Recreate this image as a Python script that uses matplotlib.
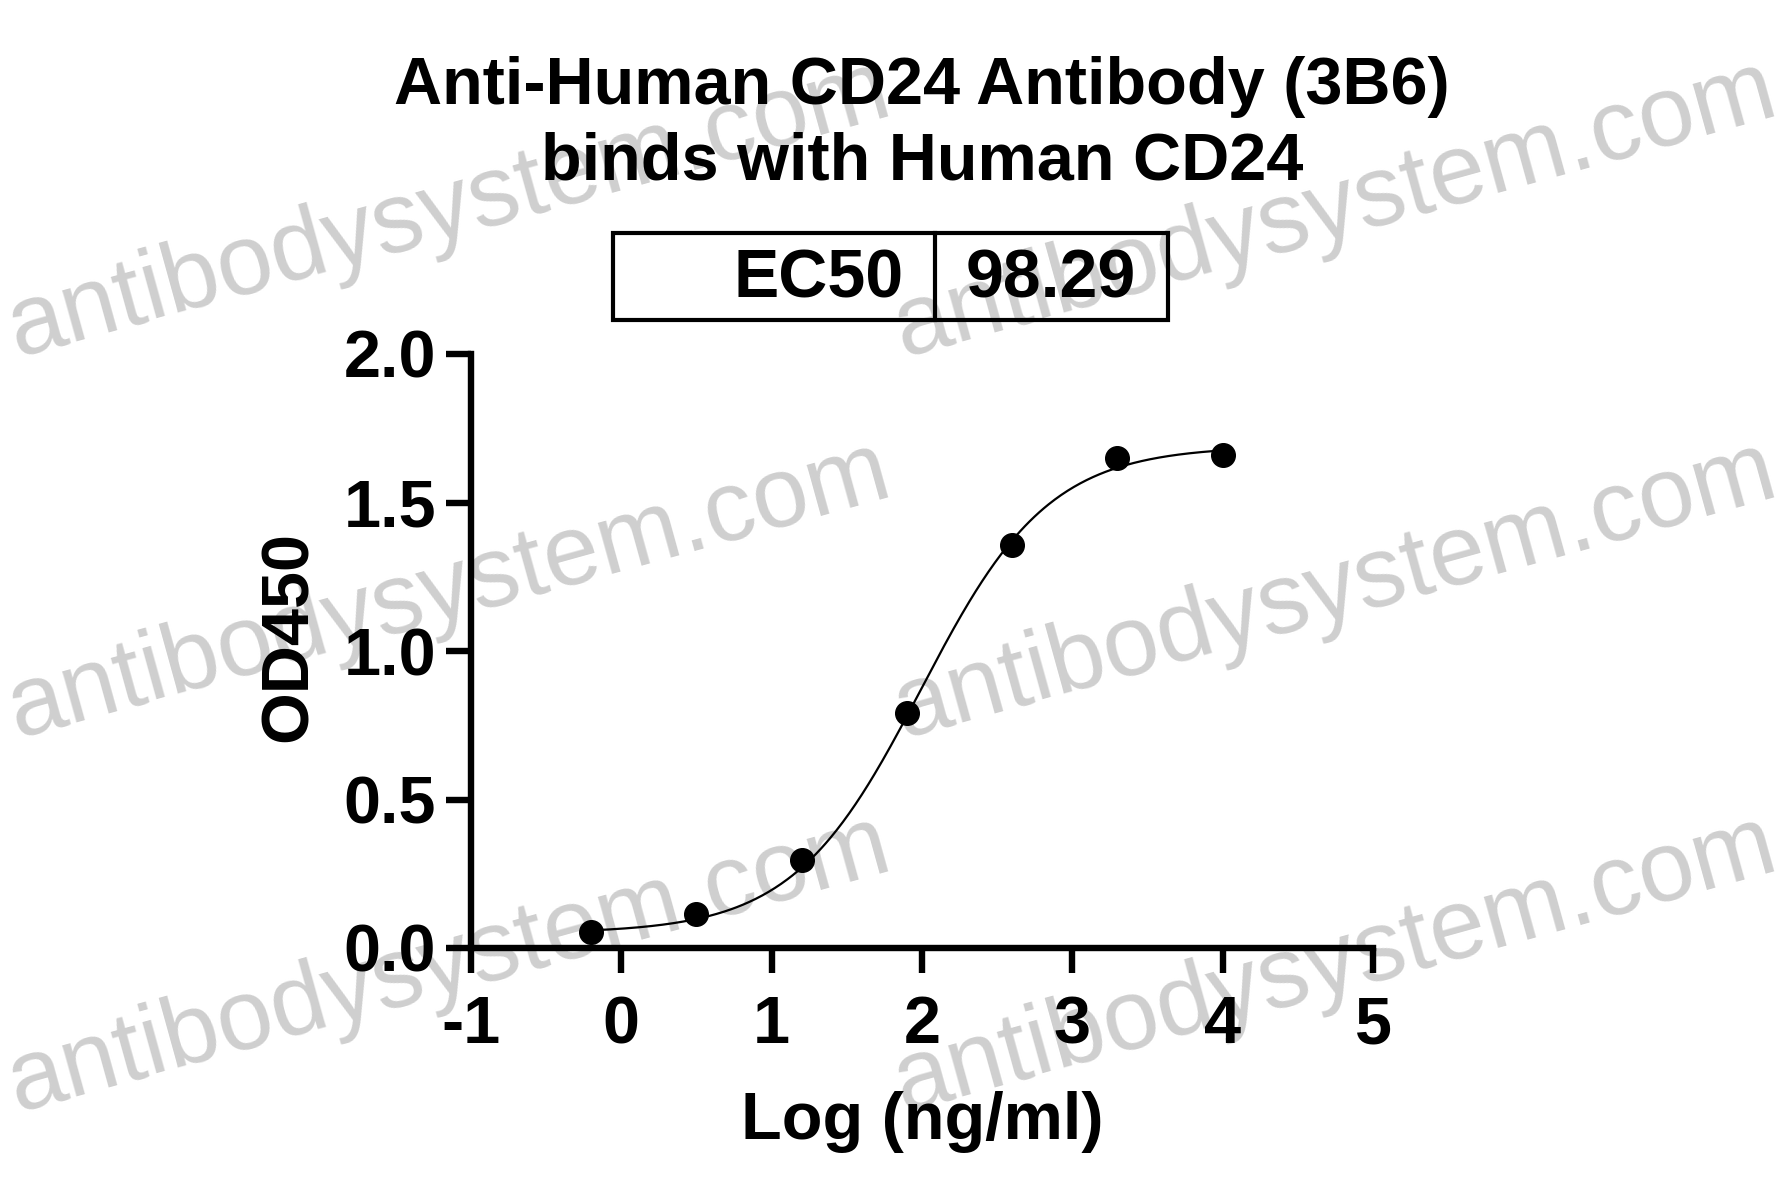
import matplotlib
matplotlib.use("Agg")
import matplotlib.pyplot as plt
import numpy as np
from matplotlib.patches import Rectangle
from matplotlib.lines import Line2D

# data
log_conc = [-0.20, 0.50, 1.20, 1.90, 2.60, 3.30, 4.00]
od450 = [0.055, 0.114, 0.295, 0.790, 1.358, 1.650, 1.660]
x_ticks = [-1, 0, 1, 2, 3, 4, 5]
y_ticks = [0.0, 0.5, 1.0, 1.5, 2.0]
ec50 = 98.29

# 4PL fit parameters (estimated from the curve)
bottom, top, hill = 0.05, 1.69, 1.02

plt.rcParams['font.family'] = ['Liberation Sans', 'DejaVu Sans']
plt.rcParams['font.weight'] = 'bold'

W, H = 1781, 1197
fig = plt.figure(figsize=(W / 100, H / 100), dpi=100)

def fx(px):
    return px / W

def fy(py):
    return 1 - py / H

# watermark, behind everything
for cx in [449, 1335]:
    for cy in [210, 591, 965]:
        fig.text(fx(cx), fy(cy), "antibodysystem.com", fontsize=72, fontweight='normal',
                 color='#cfcfcf', rotation=15.5, ha='center', va='center',
                 rotation_mode='anchor', zorder=-5)

ax = fig.add_axes([fx(471), fy(948), fx(1373) - fx(471), fy(354) - fy(948)])
ax.patch.set_alpha(0)

xs = np.linspace(min(log_conc), max(log_conc), 400)
logec = np.log10(ec50)
curve = bottom + (top - bottom) / (1 + 10 ** ((logec - xs) * hill))
ax.plot(xs, curve, color='black', lw=1.6, zorder=2)
ax.plot(log_conc, od450, 'o', color='black', markersize=17, zorder=3, clip_on=False)

ax.set_xlim(-1, 5)
ax.set_ylim(0, 2)
ax.set_xticks(x_ticks)
ax.set_xticklabels([str(t) for t in x_ticks])
ax.set_yticks(y_ticks)
ax.set_yticklabels([f"{t:.1f}" for t in y_ticks])
for s in ['top', 'right']:
    ax.spines[s].set_visible(False)
for s in ['left', 'bottom']:
    ax.spines[s].set_linewidth(4.6)
ax.tick_params(axis='both', width=4.6, length=18, labelsize=48, color='black')
ax.tick_params(axis='x', pad=16)
ax.tick_params(axis='y', pad=7)
for lab in ax.get_xticklabels() + ax.get_yticklabels():
    lab.set_fontweight('bold')

# axis labels
fig.text(fx(290), fy(636), "OD450", rotation=90, fontsize=48, fontweight='bold',
         ha='center', va='center')
fig.text(fx(922), fy(1139), "Log (ng/ml)", fontsize=48, fontweight='bold',
         ha='center', va='baseline')

# title
fig.text(fx(922), fy(104), "Anti-Human CD24 Antibody (3B6)", fontsize=48,
         fontweight='bold', ha='center', va='baseline')
fig.text(fx(922), fy(180), "binds with Human CD24", fontsize=48,
         fontweight='bold', ha='center', va='baseline')

# EC50 box
box = Rectangle((fx(613), fy(320)), fx(1168) - fx(613), fy(233) - fy(320),
                transform=fig.transFigure, fill=False, lw=3, edgecolor='black')
fig.patches.append(box)
fig.lines.append(Line2D([fx(935), fx(935)], [fy(320), fy(233)],
                        transform=fig.transFigure, color='black', lw=3))
fig.text(fx(904), fy(298), "EC50", fontsize=49, fontweight='bold', ha='right', va='baseline')
fig.text(fx(966), fy(298), f"{ec50:.2f}", fontsize=49, fontweight='bold', ha='left', va='baseline')

fig.savefig("out.png", dpi=100, facecolor='white')
